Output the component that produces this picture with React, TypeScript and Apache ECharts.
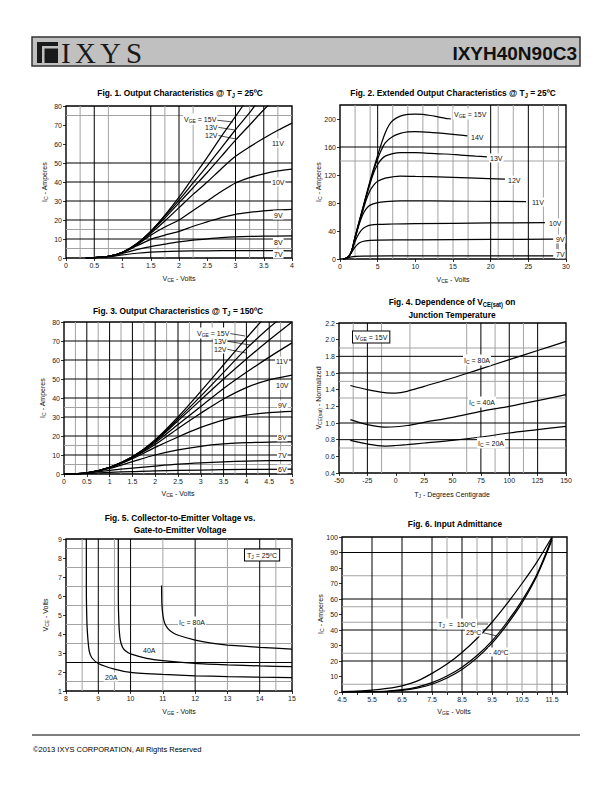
import React, { useEffect, useRef } from 'react';
import * as echarts from 'echarts';

// ---------------- Fig. 1: Output characteristics @ 25C (VCE [V], IC [A]) ----------------
const fig1V15 = [[0.35,0.1],[0.5,0.2],[0.75,0.8],[1,3],[1.25,7.5],[1.5,14],[1.75,22.5],[2,32],[2.25,42.5],[2.5,53],[2.75,64],[3,74.5],[3.15,81]];
const fig1V13 = [[0.35,0.1],[0.5,0.2],[0.75,0.8],[1,3],[1.25,7.5],[1.5,14],[1.75,22],[2,30.5],[2.25,39.5],[2.5,48.5],[2.75,58],[3,67.5],[3.25,76.5],[3.35,80.5]];
const fig1V12 = [[0.35,0.1],[0.5,0.2],[0.75,0.8],[1,3],[1.25,7.3],[1.5,13.8],[1.75,21],[2,29],[2.25,37],[2.5,45],[2.75,53.5],[3,62],[3.25,70],[3.5,78],[3.6,81]];
const fig1V11 = [[0.35,0.1],[0.5,0.2],[0.75,0.8],[1,3],[1.25,7],[1.5,13],[1.75,19.5],[2,26.5],[2.25,33.5],[2.5,40],[2.75,47],[3,53.5],[3.25,58.5],[3.5,63],[3.75,67.2],[4,71]];
const fig1V10 = [[0.35,0.1],[0.5,0.2],[0.75,0.8],[1,2.9],[1.25,6.8],[1.5,12],[1.75,16.3],[2,20],[2.25,25],[2.5,30],[2.75,35],[3,39.5],[3.25,42.3],[3.5,44.3],[3.75,45.8],[4,46.8]];
const fig1V9 = [[0.35,0.1],[0.5,0.2],[0.75,0.8],[1,2.8],[1.25,6.3],[1.5,9.8],[1.75,12],[2,14],[2.25,16.7],[2.5,19],[2.75,21.3],[3,23],[3.25,24],[3.5,24.8],[3.75,25.3],[4,25.6]];
const fig1V8 = [[0.35,0.1],[0.5,0.2],[0.75,0.7],[1,2.4],[1.25,4.4],[1.5,6],[1.75,7.3],[2,8.5],[2.25,9.4],[2.5,10.1],[2.75,10.7],[3,11.1],[3.5,11.5],[4,11.6]];
const fig1V7 = [[0.35,0.1],[0.5,0.2],[0.75,0.6],[1,1.6],[1.25,2.5],[1.5,3.1],[2,3.6],[2.5,3.8],[3,3.9],[3.5,3.9],[4,3.8]];
const fig1BlackX = [0.5, 1.5, 2, 3, 3.5];
const fig1GrayX = [0.25, 0.75, 1.75, 2.25, 3.25, 3.75];
const fig1BlackY = [10, 20, 30, 40, 50];
const fig1GrayY = [5, 15, 75];

// ---------------- Fig. 2: Extended output characteristics @ 25C ----------------
const fig2V15 = [[0.4,0],[1,2],[1.5,10],[2,32],[3,72],[4,112],[5,148],[5.5,165],[6,180],[6.5,191],[7,198],[8,204],[9,206.5],[10,207],[11,206.5],[12,205],[13,203],[14,201],[14.7,200]];
const fig2V14 = [[0.4,0],[1,2],[1.5,10],[2,31],[3,71],[4,110],[4.5,128],[5,143],[5.5,156],[6,166],[7,175],[8,179.5],[9,181.5],[10,182],[12,181],[14,179],[16,177],[16.9,176]];
const fig2V13 = [[0.4,0],[1,2],[1.5,10],[2,31],[3,70],[3.5,90],[4,108],[4.5,124],[5,135],[5.5,142.5],[6,147],[7,150.5],[8,152],[10,152],[12,151],[14,150],[16,148.5],[18,147],[19.5,146]];
const fig2V12 = [[0.4,0],[1,2],[1.5,10],[2,30],[2.5,50],[3,68],[3.5,85],[4,98],[4.5,106],[5,111],[6,115.5],[7,117.5],[8,118.5],[10,118],[14,117],[18,115.5],[21.9,114]];
const fig2V11 = [[0.4,0],[1,2],[1.5,10],[2,29],[2.5,48],[3,63],[3.5,72],[4,77],[5,80.5],[6,82],[8,83],[12,83],[18,82.5],[24.7,82]];
const fig2V10 = [[0.4,0],[1,2],[1.5,9.5],[2,25],[2.5,36],[3,43],[3.5,46.5],[4,48.3],[5,49.5],[7,50],[10,50.5],[20,51.5],[27.2,52]];
const fig2V9 = [[0.4,0],[1,2],[1.5,9],[2,17],[2.5,22.5],[3,25],[4,26.5],[5,27],[10,27.5],[20,28],[28.3,28.5]];
const fig2V7 = [[0.4,0],[1,1.5],[1.5,3],[2,3.8],[3,4.2],[10,4.4],[20,4.5],[28.3,4.5]];
const fig2BlackX = [5, 20, 25];
const fig2GrayX = [2, 4, 7, 9, 11, 13, 15, 17, 21, 23, 27, 29];
const fig2BlackY = [160];
const fig2GrayY = [140];

// ---------------- Fig. 3: Output characteristics @ 150C ----------------
const fig3V15 = [[0,0],[0.5,0.6],[1,3.5],[1.5,9],[2,18],[2.5,30],[3,43.5],[3.5,57.5],[4,71.5],[4.35,81]];
const fig3V13 = [[0,0],[0.5,0.6],[1,3.5],[1.5,9],[2,17.5],[2.5,29],[3,41],[3.5,53.5],[4,66],[4.5,77],[4.7,81]];
const fig3V12 = [[0,0],[0.5,0.6],[1,3.5],[1.5,9],[2,17.2],[2.5,28],[3,39],[3.5,50],[4,60.5],[4.5,70.5],[5,80]];
const fig3V11 = [[0,0],[0.5,0.6],[1,3.4],[1.5,8.8],[2,16.5],[2.5,26],[3,35.5],[3.5,45],[4,53.5],[4.5,61.5],[5,69]];
const fig3V10 = [[0,0],[0.5,0.6],[1,3.3],[1.5,8.5],[2,15.5],[2.5,24],[3,32],[3.5,39.5],[4,45.5],[4.5,49.5],[5,52]];
const fig3V9 = [[0,0],[0.5,0.6],[1,3.2],[1.5,8],[2,14],[2.5,19.5],[3,24.5],[3.5,28.5],[4,31],[4.5,32.3],[5,33]];
const fig3V8 = [[0,0],[0.5,0.5],[1,2.9],[1.5,6.5],[2,10],[2.5,12.7],[3,14.6],[3.5,15.8],[4,16.5],[4.5,16.8],[5,16.9]];
const fig3V7 = [[0,0],[0.5,0.5],[1,1.9],[1.5,3.1],[2,4.2],[2.5,5.2],[3,5.9],[3.5,6.4],[4,6.8],[4.5,7],[5,7.1]];
const fig3V6 = [[0,0],[0.5,0.3],[1,0.9],[1.5,1.3],[2,1.7],[3,2.1],[4,2.4],[5,2.6]];
const fig3BlackX = [0.5, 1, 1.5, 2, 2.5, 3, 3.5, 4, 4.5];
const fig3GrayX = [0.25, 0.75, 1.25, 1.75, 2.25, 2.75, 3.25, 3.75, 4.25, 4.75];
const fig3BlackY = [10, 20, 30, 40, 50, 60, 70];
const fig3GrayY = [5, 15, 35];

// ---------------- Fig. 4: VCE(sat) normalized vs junction temperature ----------------
const fig4Temp = [-40, -25, -10, 0, 10, 25, 50, 75, 100, 125, 150];
const fig4Ic80 = [1.45, 1.40, 1.365, 1.36, 1.38, 1.44, 1.54, 1.65, 1.76, 1.87, 1.98];
const fig4Ic40 = [1.04, 0.98, 0.952, 0.955, 0.97, 1.008, 1.068, 1.14, 1.2, 1.268, 1.34];
const fig4Ic20 = [0.792, 0.748, 0.724, 0.73, 0.74, 0.76, 0.792, 0.832, 0.88, 0.92, 0.96];
const fig4BlackX = [-25, 75, 100, 125];
const fig4GrayX = [-37.5, -12.5, 12.5, 62.5, 87.5, 112.5];
const fig4BlackY = [0.8, 1.0, 1.6, 1.8];
const fig4GrayY = [0.7, 1.3, 1.5, 1.9];

// ---------------- Fig. 5: VCE vs VGE ----------------
const fig5Ic20 = [[8.63,9],[8.63,6.5],[8.65,4.5],[8.68,3.7],[8.72,3.1],[8.8,2.75],[9,2.45],[9.5,2.15],[10,1.98],[11,1.87],[12,1.8],[13,1.76],[14,1.73],[15,1.71]];
const fig5Ic40 = [[9.62,9],[9.62,6],[9.64,4.5],[9.68,3.7],[9.75,3.3],[9.85,3.1],[10,2.95],[10.5,2.72],[11,2.6],[12,2.46],[13,2.38],[14,2.32],[15,2.28]];
const fig5Ic80 = [[10.96,6.55],[10.97,5.6],[11,5.0],[11.05,4.6],[11.15,4.3],[11.3,4.08],[11.5,3.92],[12,3.68],[12.5,3.52],[13,3.42],[14,3.3],[15,3.2]];
const fig5BlackX = [9, 10, 12, 14];
const fig5GrayX = [8.5, 9.5, 11, 13, 14.5];
const fig5BlackY = [2.5];
const fig5GrayY = [1.5, 3.5, 4.5, 5.5, 6.5, 7.5, 8.5];

// ---------------- Fig. 6: Input admittance ----------------
const fig6Vge = [4.5, 5, 5.5, 6, 6.5, 7, 7.5, 8, 8.5, 9, 9.5, 10, 10.5, 11, 11.5];
const fig6T150 = [0.3, 0.6, 1.2, 2.3, 4, 7, 12, 18, 25.5, 34.5, 45, 57, 70, 84, 100];
const fig6T25 = [0, 0.05, 0.2, 0.6, 1.5, 3.2, 6, 10.3, 16, 23.5, 33, 45, 59, 76, 99.5];
const fig6Tm40 = [0, 0, 0.05, 0.3, 1, 2.5, 5, 9, 14.5, 22, 31.5, 43.5, 57.5, 75, 98];
const fig6BlackX = [5.5, 6.5, 7.5, 8.5, 9.5, 11.5];
const fig6GrayX = [8, 9, 10, 10.5, 11];
const fig6BlackY = [20, 40, 60, 90];
const fig6GrayY = [5, 25, 45, 55, 75];

// ---------------- styling ----------------
const FONT = '"Liberation Sans", Arial, Helvetica, sans-serif';
const SERIF = '"Liberation Serif", "Times New Roman", serif';
const GRAY = '#a3a3a3';

const richSmall = {
  n: { fontSize: 7, fontFamily: FONT, fill: '#111' },
  s: { fontSize: 5, fontFamily: FONT, fill: '#111', padding: [4, 0, 0, 0] },
};
const richTitle = {
  n: { fontSize: 9.5, fontFamily: FONT, fontWeight: 'bold', fill: '#000' },
  s: { fontSize: 6.5, fontFamily: FONT, fontWeight: 'bold', fill: '#000', padding: [4, 0, 0, 0] },
};

const T = (x: number, y: number, text: string, extra: any = {}) => ({
  type: 'text', x, y, silent: true, z: 100,
  style: { text, fill: '#111', fontSize: 7, fontFamily: FONT, align: 'left', verticalAlign: 'middle', rich: richSmall, ...extra },
});
const LBL = (x: number, y: number, text: string, extra: any = {}) =>
  T(x, y, text, { backgroundColor: '#fff', padding: [1, 1], fontSize: 6.5, ...extra });
const TITLE = (x: number, y: number, text: string) => ({
  type: 'text', x, y, silent: true, z: 100, scaleX: 0.88,
  style: { text, fill: '#000', fontSize: 9.5, fontWeight: 'bold', fontFamily: FONT, align: 'center', verticalAlign: 'middle', rich: richTitle },
});
const YNAME = (x: number, y: number, text: string) => ({
  type: 'text', x, y, silent: true, z: 100, rotation: Math.PI / 2,
  style: { text, fill: '#111', fontSize: 7, fontFamily: FONT, align: 'center', verticalAlign: 'middle', rich: richSmall },
});
const LN = (x1: number, y1: number, x2: number, y2: number, color = '#000', w = 0.7) => ({
  type: 'line', silent: true, z: 99, shape: { x1, y1, x2, y2 }, style: { stroke: color, lineWidth: w },
});

const gridDefs = [
  { left: 66, top: 106, width: 226, height: 152 },
  { left: 340, top: 105, width: 226, height: 154 },
  { left: 64, top: 322, width: 228, height: 152 },
  { left: 339, top: 323, width: 227, height: 150 },
  { left: 66, top: 539, width: 226, height: 152 },
  { left: 342, top: 537, width: 225, height: 155 },
];

const axisLabelBase = { fontSize: 7, color: '#222', fontFamily: FONT, margin: 4 };
const axisBase = {
  type: 'value',
  axisLine: { show: false, onZero: false },
  axisTick: { show: true, length: 3, lineStyle: { color: '#000', width: 0.8 } },
  splitLine: { show: false },
};
const ax = (gridIndex: number, min: number, max: number, interval: number, label: any = {}) => ({
  ...axisBase, gridIndex, min, max, interval, axisLabel: { ...axisLabelBase, ...label },
});

// reference grid lines drawn through the axes' own scales (custom series, api.coord)
const refLines = (idx: number, values: number[], vertical: boolean, color: string, z: number) => ({
  type: 'custom', xAxisIndex: idx, yAxisIndex: idx, silent: true, z, clip: false,
  data: values.map((v) => [v]),
  renderItem: (params: any, api: any) => {
    const cs = params.coordSys;
    const v = api.value(0);
    if (vertical) {
      const px = api.coord([v, 0])[0];
      return { type: 'line', shape: { x1: px, y1: cs.y, x2: px, y2: cs.y + cs.height }, style: { stroke: color, lineWidth: 1 } };
    }
    const py = api.coord([0, v])[1];
    return { type: 'line', shape: { x1: cs.x, y1: py, x2: cs.x + cs.width, y2: py }, style: { stroke: color, lineWidth: 1 } };
  },
});
const gridSeries = (idx: number, bx: number[], gx: number[], by: number[], gy: number[]) => [
  refLines(idx, gx, true, GRAY, 1),
  refLines(idx, gy, false, GRAY, 1),
  refLines(idx, bx, true, '#000', 2),
  refLines(idx, by, false, '#000', 2),
];
const curve = (idx: number, data: number[][], smooth: number = 0.3) => ({
  type: 'line', xAxisIndex: idx, yAxisIndex: idx, data, smooth, showSymbol: false, symbol: 'none',
  silent: true, clip: true, z: 3, lineStyle: { color: '#000', width: 1.25 },
});
const zip = (xs: number[], ys: number[]) => xs.map((x, i) => [x, ys[i]]);

const option: any = {
  animation: false,
  backgroundColor: '#fff',
  grid: gridDefs.map((g) => ({ ...g, show: true, borderColor: '#000', borderWidth: 1.4, backgroundColor: 'transparent' })),
  xAxis: [
    ax(0, 0, 4, 0.5),
    ax(1, 0, 30, 5),
    ax(2, 0, 5, 0.5),
    ax(3, -50, 150, 25),
    ax(4, 8, 15, 1),
    ax(5, 4.5, 12, 0.5, {
      formatter: (v: number) => (Math.abs(((v * 2) % 2) - 1) < 0.01 && v < 11.9 ? v.toFixed(1) : ''),
    }),
  ],
  yAxis: [
    ax(0, 0, 80, 10),
    ax(1, 0, 220, 40, { showMaxLabel: false }),
    ax(2, 0, 80, 10),
    ax(3, 0.4, 2.2, 0.2, { formatter: (v: number) => v.toFixed(1) }),
    ax(4, 1, 9, 1),
    ax(5, 0, 100, 10),
  ],
  series: [
    ...gridSeries(0, fig1BlackX, fig1GrayX, fig1BlackY, fig1GrayY),
    ...gridSeries(1, fig2BlackX, fig2GrayX, fig2BlackY, fig2GrayY),
    ...gridSeries(2, fig3BlackX, fig3GrayX, fig3BlackY, fig3GrayY),
    ...gridSeries(3, fig4BlackX, fig4GrayX, fig4BlackY, fig4GrayY),
    ...gridSeries(4, fig5BlackX, fig5GrayX, fig5BlackY, fig5GrayY),
    ...gridSeries(5, fig6BlackX, fig6GrayX, fig6BlackY, fig6GrayY),
    ...[fig1V15, fig1V13, fig1V12, fig1V11, fig1V10, fig1V9, fig1V8, fig1V7].map((d) => curve(0, d)),
    ...[fig2V15, fig2V14, fig2V13, fig2V12, fig2V11, fig2V10, fig2V9, fig2V7].map((d) => curve(1, d)),
    ...[fig3V15, fig3V13, fig3V12, fig3V11, fig3V10, fig3V9, fig3V8, fig3V7, fig3V6].map((d) => curve(2, d)),
    ...[fig4Ic80, fig4Ic40, fig4Ic20].map((d) => curve(3, zip(fig4Temp, d))),
    ...[fig5Ic20, fig5Ic40, fig5Ic80].map((d) => curve(4, d, 0.2)),
    ...[fig6T150, fig6T25, fig6Tm40].map((d) => curve(5, zip(fig6Vge, d))),
  ],
  graphic: {
    elements: [
      // header
      { type: 'rect', silent: true, z: 90, shape: { x: 32, y: 37, width: 548, height: 29 }, style: { fill: '#c0c0c0', stroke: '#333', lineWidth: 1.5 } },
      { type: 'rect', silent: true, z: 95, shape: { x: 37, y: 42, width: 21, height: 21 }, style: { fill: '#1a1a1a' } },
      { type: 'rect', silent: true, z: 96, shape: { x: 42, y: 46, width: 2.5, height: 17 }, style: { fill: '#c0c0c0' } },
      { type: 'rect', silent: true, z: 96, shape: { x: 42, y: 46, width: 16, height: 2.5 }, style: { fill: '#c0c0c0' } },
      { type: 'text', silent: true, z: 96, x: 61, y: 53, style: { text: 'I', fill: '#1a1a1a', fontSize: 29, fontFamily: SERIF, verticalAlign: 'middle' } },
      { type: 'text', silent: true, z: 96, x: 75, y: 53, style: { text: 'X', fill: '#1a1a1a', fontSize: 29, fontFamily: SERIF, verticalAlign: 'middle' } },
      { type: 'text', silent: true, z: 96, x: 100, y: 53, style: { text: 'Y', fill: '#1a1a1a', fontSize: 29, fontFamily: SERIF, verticalAlign: 'middle' } },
      { type: 'text', silent: true, z: 96, x: 126, y: 53, style: { text: 'S', fill: '#1a1a1a', fontSize: 29, fontFamily: SERIF, verticalAlign: 'middle' } },
      { type: 'text', silent: true, z: 96, x: 577, y: 53, style: { text: 'IXYH40N90C3', fill: '#111', fontSize: 19, fontWeight: 'bold', fontFamily: FONT, align: 'right', verticalAlign: 'middle' } },
      // footer
      LN(32, 735, 580, 735, '#000', 1),
      T(33, 749, '©2013 IXYS CORPORATION, All Rights Reserved', { fontSize: 7.5, fill: '#000' }),

      // titles
      TITLE(180, 93, '{n|Fig. 1. Output Characteristics @ T}{s|J}{n| = 25ºC}'),
      TITLE(453, 93, '{n|Fig. 2. Extended Output Characteristics @ T}{s|J}{n| = 25ºC}'),
      TITLE(178, 311, '{n|Fig. 3. Output Characteristics @ T}{s|J}{n| = 150ºC}'),
      TITLE(452, 302, '{n|Fig. 4. Dependence of V}{s|CE(sat)}{n| on}'),
      TITLE(452, 315, '{n|Junction Temperature}'),
      TITLE(180, 518, '{n|Fig. 5. Collector-to-Emitter Voltage vs.}'),
      TITLE(180, 530, '{n|Gate-to-Emitter Voltage}'),
      TITLE(455, 524, '{n|Fig. 6. Input Admittance}'),

      // axis names
      T(179, 278, '{n|V}{s|CE}{n| - Volts}', { align: 'center' }),
      T(453, 279, '{n|V}{s|CE}{n| - Volts}', { align: 'center' }),
      T(178, 493, '{n|V}{s|CE}{n| - Volts}', { align: 'center' }),
      T(452, 494, '{n|T}{s|J}{n| - Degrees Centigrade}', { align: 'center' }),
      T(179, 711, '{n|V}{s|GE}{n| - Volts}', { align: 'center' }),
      T(454, 711, '{n|V}{s|GE}{n| - Volts}', { align: 'center' }),
      YNAME(44, 182, '{n|I}{s|C}{n| - Amperes}'),
      YNAME(318, 182, '{n|I}{s|C}{n| - Amperes}'),
      YNAME(42, 398, '{n|I}{s|C}{n| - Amperes}'),
      YNAME(318, 398, '{n|V}{s|CE(sat)}{n| - Normalized}'),
      YNAME(45, 615, '{n|V}{s|CE}{n| - Volts}'),
      YNAME(320, 614, '{n|I}{s|C}{n| - Amperes}'),

      // Fig 1 labels
      LBL(183, 119, '{n|V}{s|GE}{n| = 15V}'),
      LN(215, 120, 233, 122),
      LBL(204, 127, '{n|13V}'),
      LN(216, 127, 235, 130),
      LBL(204, 135, '{n|12V}'),
      LN(216, 135, 236, 139),
      LBL(271, 143, '{n|11V}'),
      LBL(271, 182, '{n|10V}'),
      LBL(273, 215, '{n|9V}'),
      LBL(273, 242, '{n|8V}'),
      LBL(273, 254, '{n|7V}'),

      // Fig 2 labels
      LBL(453, 114, '{n|V}{s|GE}{n| = 15V}'),
      LBL(470, 137, '{n|14V}'),
      LBL(489, 158, '{n|13V}'),
      LBL(507, 180, '{n|12V}'),
      LBL(531, 202, '{n|11V}'),
      LBL(548, 223, '{n|10V}'),
      LBL(555, 239, '{n|9V}'),
      LN(557, 243, 557, 249),
      LBL(555, 254, '{n|7V}'),

      // Fig 3 labels
      LBL(196, 333, '{n|V}{s|GE}{n| = 15V}'),
      LN(227, 333, 245, 336),
      LBL(213, 341, '{n|13V}'),
      LN(226, 341, 250, 345),
      LBL(213, 349, '{n|12V}'),
      LN(226, 349, 246, 353),
      LBL(275, 361, '{n|11V}'),
      LBL(275, 385, '{n|10V}'),
      LBL(277, 405, '{n|9V}'),
      LBL(277, 437, '{n|8V}'),
      LBL(277, 455, '{n|7V}'),
      LBL(277, 469, '{n|6V}'),

      // Fig 4 labels
      T(353, 337, '{n|V}{s|GE}{n| = 15V}', { backgroundColor: '#fff', borderColor: '#000', borderWidth: 1, padding: [1, 2] }),
      LBL(463, 360, '{n|I}{s|C}{n| = 80A}'),
      LBL(468, 402, '{n|I}{s|C}{n| = 40A}'),
      LBL(477, 443, '{n|I}{s|C}{n| = 20A}'),

      // Fig 5 labels
      T(245, 555, '{n|T}{s|J}{n| = 25ºC}', { backgroundColor: '#fff', borderColor: '#000', borderWidth: 1, padding: [1, 2] }),
      LBL(178, 622, '{n|I}{s|C}{n| = 80A}'),
      LBL(142, 650, '{n|40A}'),
      LBL(104, 677, '{n|20A}'),

      // Fig 6 labels
      LBL(437, 624, '{n|T}{s|J}{n|  =  150ºC}'),
      LN(460, 624, 488, 624),
      LBL(465, 632, '{n|25ºC}'),
      LN(480, 632, 497, 636),
      LBL(488, 652, '{n|- 40ºC}'),
    ],
  },
};

export default function App() {
  const ref = useRef<HTMLDivElement>(null);
  useEffect(() => {
    if (!ref.current) return;
    const chart = echarts.init(ref.current, null, { renderer: 'svg' });
    chart.setOption(option);
    return () => chart.dispose();
  }, []);
  return (
    <div
      ref={ref}
      style={{ position: 'absolute', left: 0, top: 0, width: 612, height: 792, background: '#fff' }}
    />
  );
}
